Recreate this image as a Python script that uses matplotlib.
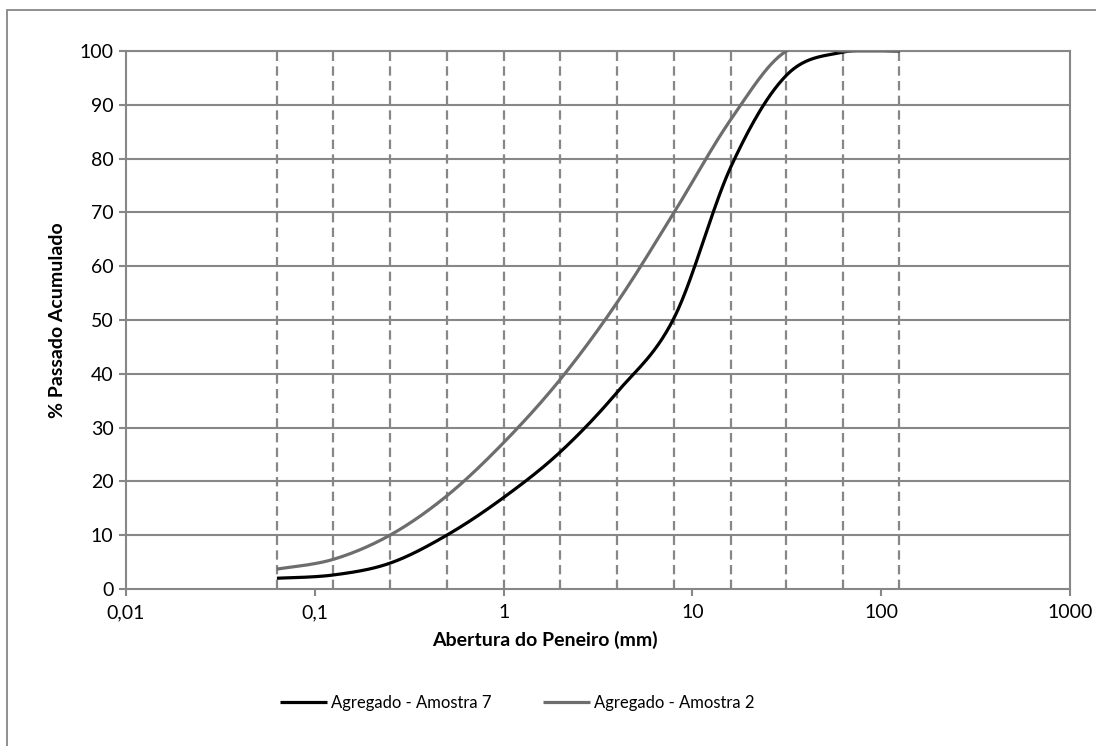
import numpy as np
import matplotlib
matplotlib.use("Agg")
import matplotlib.pyplot as plt
from matplotlib.patches import Rectangle

# ---- data ----
sieves = [0.063, 0.125, 0.25, 0.5, 1, 2, 4, 8, 16, 31.5, 63, 125]
amostra7 = [2.0, 2.6, 4.8, 10.0, 17.0, 25.5, 36.6, 50.4, 78.5, 95.5, 99.8, 100.0]
amostra2 = [3.7, 5.5, 10.0, 17.3, 27.2, 39.0, 53.3, 70.0, 87.3, 100.0, 100.0, 100.0]
series_names = ["Agregado - Amostra 7", "Agregado - Amostra 2"]
series_colors = ["#000000", "#6d6d6d"]
x_ticks = [0.01, 0.1, 1, 10, 100, 1000]
x_ticklabels = ["0,01", "0,1", "1", "10", "100", "1000"]
y_ticks = list(range(0, 101, 10))

GRID = "#878787"
FONT = "Lato"


def smooth(xs, ys, n=30):
    """Excel-like smoothed line: Catmull-Rom through points in (log x, y)."""
    lx = np.log10(np.asarray(xs, float))
    y = np.asarray(ys, float)
    px = np.concatenate([[lx[0]], lx, [lx[-1]]])
    py = np.concatenate([[y[0]], y, [y[-1]]])
    outx, outy = [], []
    t = np.linspace(0, 1, n)
    for i in range(1, len(px) - 2):
        p0x, p1x, p2x, p3x = px[i - 1], px[i], px[i + 1], px[i + 2]
        p0y, p1y, p2y, p3y = py[i - 1], py[i], py[i + 1], py[i + 2]
        c1x = p1x + (p2x - p0x) / 6
        c1y = p1y + (p2y - p0y) / 6
        c2x = p2x - (p3x - p1x) / 6
        c2y = p2y - (p3y - p1y) / 6
        bx = ((1 - t) ** 3) * p1x + 3 * ((1 - t) ** 2) * t * c1x + 3 * (1 - t) * t ** 2 * c2x + t ** 3 * p2x
        by = ((1 - t) ** 3) * p1y + 3 * ((1 - t) ** 2) * t * c1y + 3 * (1 - t) * t ** 2 * c2y + t ** 3 * p2y
        outx.append(bx)
        outy.append(by)
    return 10 ** np.concatenate(outx), np.concatenate(outy)


W, H = 1096, 746
fig = plt.figure(figsize=(W / 100, H / 100), dpi=100)

# outer chart border
fig.patches.append(Rectangle((7 / W, -0.05), 1.2, (H - 10) / H + 0.05, transform=fig.transFigure,
                             fill=False, edgecolor=GRID, linewidth=1.3))

L, R, T, B = 126, 1070, 51, 589
ax = fig.add_axes([L / W, 1 - B / H, (R - L) / W, (B - T) / H])
ax.set_xscale("log")
ax.set_xlim(0.01, 1000)
ax.set_ylim(0, 100)

for yv in y_ticks[1:]:
    ax.axhline(yv, color=GRID, linewidth=1.5, zorder=1)
for s in sieves:
    ax.axvline(s, color=GRID, linewidth=1.6, linestyle=(0, (4.2, 2.4)), zorder=1)

for vals, name, col in zip([amostra7, amostra2], series_names, series_colors):
    sx, sy = smooth(sieves, vals)
    ax.plot(sx, sy, color=col, linewidth=2.3, label=name, zorder=3, clip_on=True,
            solid_capstyle="butt")

for sp in ax.spines.values():
    sp.set_color(GRID)
    sp.set_linewidth(1.5)

ax.set_xticks(x_ticks)
ax.set_xticklabels(x_ticklabels)
ax.xaxis.set_minor_locator(matplotlib.ticker.NullLocator())
ax.set_yticks(y_ticks)
ax.tick_params(axis="both", direction="out", length=5, width=1.5, color=GRID,
               labelsize=14, labelcolor="black")
ax.tick_params(axis="x", pad=6)
ax.tick_params(axis="y", pad=4)
for lab in ax.get_xticklabels() + ax.get_yticklabels():
    lab.set_fontfamily(FONT)

ax.set_xlabel("Abertura do Peneiro (mm)", fontsize=14, fontweight="bold", family=FONT, labelpad=3)
ax.xaxis.set_label_coords((545 - L) / (R - L), -(640 - B) / (B - T), transform=ax.transAxes)
ax.xaxis.label.set_va("center")
ax.set_ylabel("% Passado Acumulado", fontsize=14, fontweight="bold", family=FONT, labelpad=10)

leg = fig.legend(loc="center", bbox_to_anchor=(517.5 / W, 1 - 703 / H), ncol=2, frameon=False,
                 prop={"family": FONT, "size": 12}, handlelength=2.8, handletextpad=0.25,
                 columnspacing=3.1, borderpad=0, borderaxespad=0)

fig.savefig("out.png", dpi=100)
